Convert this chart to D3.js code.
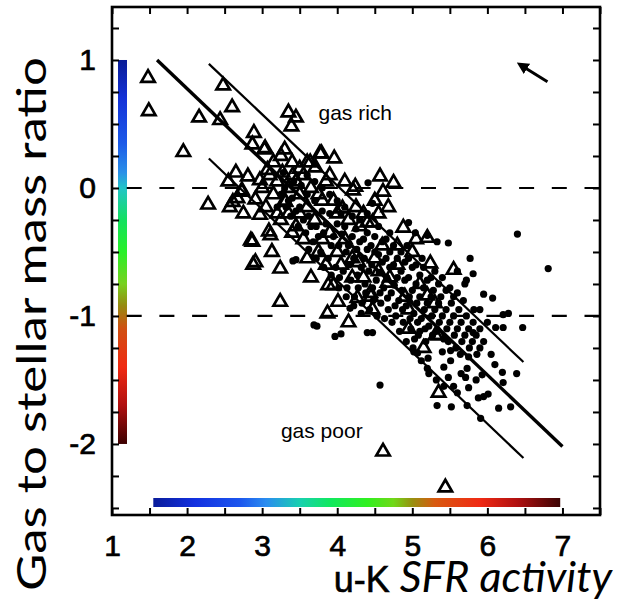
<!DOCTYPE html>
<html><head><meta charset="utf-8">
<script src="https://cdn.jsdelivr.net/npm/d3@7"></script>
<style>body{margin:0;background:#fff}svg{display:block}</style>
</head><body>
<svg id="c" width="619" height="602"></svg>
<script>
// ---- data ----
const xTicks = [1,2,3,4,5,6,7];
const yTicks = [1,0,-1,-2];
const dashedLevels = [0,-1];
const fitLines = [
  {x1:1.6, y1:1.0, x2:7.0, y2:-2.02, main:true},
  {x1:2.29, y1:0.97, x2:6.48, y2:-1.36, main:false},
  {x1:2.29, y1:0.23, x2:6.48, y2:-2.11, main:false}
];
const triangles = [
[1.48,0.86],[1.49,0.60],[2.16,0.55],[1.95,0.28],[2.48,0.80],[2.60,0.63],[2.44,0.53],[3.35,0.59],[3.45,0.55],[3.39,0.48],
[2.89,0.43],[2.87,0.34],[3.03,0.30],[3.77,0.27],[3.60,0.20],[3.71,0.16],[3.40,0.20],[3.07,0.14],[3.27,0.12],[3.41,0.10],
[2.81,0.09],[2.97,0.06],[2.28,-0.13],[2.57,-0.15],[2.61,-0.11],[2.73,-0.03],[2.91,-0.09],[2.97,-0.21],[3.09,-0.34],[2.87,-0.42],
[3.13,-0.50],[2.88,-0.60],[3.24,-0.63],[3.95,-0.76],[3.24,-0.89],[4.57,0.09],[4.75,0.04],[4.61,-0.03],[4.68,-0.15],[4.47,-0.27],
[4.88,-0.31],[5.20,-0.39],[5.55,-0.64],[5.24,-0.59],[4.21,-0.02],[3.87,-0.98],[4.01,-0.89],[4.15,-1.05],[4.27,-0.86],[4.47,-0.95],
[5.35,-1.60],[5.35,-1.15],[4.61,-2.06],[5.44,-2.34],[3.88,-0.76],[4.40,-0.27],[3.11,-0.37],[2.67,-0.08],
[3.0,0.0],[3.15,-0.05],[3.3,-0.1],[3.2,0.05],[3.5,-0.05],[3.6,-0.15],[3.35,-0.2],[3.45,-0.3],[3.7,-0.25],[3.8,-0.1],
[3.9,-0.35],[4.0,-0.2],[4.1,-0.4],[3.55,-0.4],[3.75,-0.5],[4.2,-0.55],[4.3,-0.3],[4.05,-0.6],[4.35,-0.7],[4.5,-0.55],
[4.6,-0.45],[4.7,-0.7],[4.8,-0.6],[4.9,-0.85],[4.45,-0.85],[3.3,0.3],[3.5,0.15],[3.9,0.1],[4.1,0.05],[3.85,-0.6],
[3.65,-0.7],[4.25,-0.15],[4.55,-0.2],[5.0,-0.5],[5.1,-0.75],[5.3,-0.9],[4.95,-1.1],[5.15,-1.25],[3.05,-0.15],[3.25,-0.25],
[2.75,-0.2],[2.55,0.05],[2.65,0.12],
[3.04,0.31],[3.79,0.27],[3.96,0.23],[3.64,0.20],[3.31,-0.11],[2.85,-0.41],[2.91,-0.58],[4.24,0.01],[4.07,-0.16],[2.73,-0.02],
[4.28,-0.58],[4.67,-0.74],[4.44,-0.82],[5.2,-0.84],[5.31,-1.15],[3.1,0.1],[3.2,-0.2],[3.35,0.0],[3.45,0.05],[3.55,0.1],
[3.65,0.0],[3.75,-0.05],[3.5,-0.2],[3.85,0.05],[3.95,-0.1],[4.15,-0.25],[4.35,-0.2],[4.5,-0.1],[3.4,-0.35],[3.6,-0.55],
[3.8,-0.4],[4.0,-0.5],[4.2,-0.7],[4.55,-0.65],[4.8,-0.45],[4.95,-0.95],[5.05,-0.4],[3.15,0.2],[3.25,0.25]
];
const dots = [
[3.41,-0.57],[3.45,-0.56],[3.69,-1.07],[3.73,-1.08],[3.97,-1.16],[4.05,-1.14],[4.40,-1.13],[4.47,-1.13],[4.17,-0.94],[4.57,-1.54],
[4.41,0.04],[4.47,-0.12],[4.95,-0.27],[5.04,-0.35],[5.20,-0.37],[5.33,-0.42],[5.48,-0.43],[6.40,-0.36],[6.81,-0.63],[5.77,-0.55],
[5.81,-0.67],[5.72,-0.72],[5.95,-0.83],[6.07,-0.86],[6.21,-0.99],[6.28,-0.98],[6.47,-1.09],[6.21,-1.09],[5.81,-1.05],[5.81,-1.13],
[6.0,-1.05],[6.11,-1.09],[6.2,-1.44],[6.39,-1.45],[6.21,-1.52],[5.93,-1.46],[5.71,-1.48],[5.51,-1.35],[5.40,-1.28],[5.51,-1.27],
[5.64,-1.30],[5.75,-1.32],[5.73,-1.41],[5.20,-1.41],[5.48,-1.48],[5.75,-1.56],[5.88,-1.64],[6.01,-1.61],[5.95,-1.63],[5.33,-1.70],
[5.52,-1.71],[5.73,-1.70],[6.15,-1.72],[6.31,-1.71],[5.91,-1.80],[5.01,-1.25],[5.07,-1.29],[5.21,-1.33],
[3.3,0.0],[3.32,-0.15],[3.28,0.12],[3.4,-0.08],[3.42,0.05],[3.38,-0.22],[3.5,-0.15],[3.52,0.02],[3.48,-0.3],
[3.6,-0.05],[3.62,-0.22],[3.58,-0.35],[3.6,0.1],[3.7,-0.1],[3.72,-0.3],[3.68,-0.42],[3.7,0.05],
[3.8,-0.18],[3.82,-0.35],[3.78,-0.5],[3.8,0.0],[3.9,-0.2],[3.92,-0.45],[3.88,-0.55],[3.9,-0.05],
[4.0,-0.28],[4.02,-0.45],[3.98,-0.62],[4.0,-0.1],[4.03,-0.7],[4.1,-0.3],[4.12,-0.5],[4.08,-0.65],[4.1,-0.15],[4.13,-0.78],
[4.2,-0.38],[4.22,-0.55],[4.18,-0.72],[4.2,-0.22],[4.23,-0.85],[4.3,-0.42],[4.32,-0.62],[4.28,-0.78],[4.3,-0.25],[4.33,-0.9],
[4.4,-0.48],[4.42,-0.65],[4.38,-0.82],[4.4,-0.35],[4.43,-0.95],[4.4,-0.2],[4.5,-0.5],[4.52,-0.72],[4.48,-0.88],[4.5,-0.38],[4.53,-1.0],
[4.6,-0.58],[4.62,-0.78],[4.58,-0.9],[4.6,-0.42],[4.63,-1.02],[4.7,-0.62],[4.72,-0.82],[4.68,-0.95],[4.7,-0.5],[4.73,-1.05],[4.7,-0.35],
[4.8,-0.7],[4.82,-0.88],[4.78,-1.0],[4.8,-0.55],[4.83,-1.12],[4.9,-0.72],[4.92,-0.92],[4.88,-1.05],[4.9,-0.58],[4.93,-0.45],
[5.0,-0.8],[5.02,-0.98],[4.98,-1.1],[5.0,-0.62],[5.03,-1.18],[5.1,-0.85],[5.12,-1.02],[5.08,-1.15],[5.1,-0.68],[5.13,-0.55],
[5.2,-0.9],[5.22,-1.08],[5.18,-1.2],[5.2,-0.72],[5.3,-0.95],[5.32,-1.12],[5.28,-0.8],[5.3,-0.65],
[5.4,-1.0],[5.42,-1.18],[5.38,-0.85],[5.4,-0.7],[5.5,-1.05],[5.52,-0.9],[5.48,-1.2],[5.5,-0.78],
[5.6,-1.1],[5.62,-0.95],[5.58,-1.25],[5.6,-0.82],[5.7,-1.15],[5.72,-1.0],[5.68,-0.88],[5.8,-1.2],[5.82,-0.95],[5.9,-1.25],[5.9,-1.1],
[3.85,-0.28],[3.95,-0.38],[4.05,-0.2],[4.06,-0.36],[4.15,-0.45],[4.16,-0.6],[4.25,-0.32],[4.26,-0.48],[4.27,-0.68],[4.35,-0.4],
[4.36,-0.55],[4.37,-0.75],[4.45,-0.45],[4.46,-0.6],[4.47,-0.78],[4.55,-0.52],[4.56,-0.66],[4.57,-0.82],[4.55,-0.3],[4.65,-0.55],
[4.66,-0.7],[4.67,-0.86],[4.65,-0.4],[4.75,-0.6],[4.76,-0.76],[4.77,-0.92],[4.75,-0.45],[4.85,-0.65],[4.86,-0.8],[4.87,-0.95],
[4.85,-0.5],[4.95,-0.7],[4.96,-0.85],[4.97,-1.02],[4.95,-0.55],[5.05,-0.75],[5.06,-0.9],[5.07,-1.05],[5.05,-0.6],[5.15,-0.78],
[5.16,-0.95],[5.17,-1.1],[5.15,-0.62],[5.25,-0.85],[5.26,-1.0],[5.27,-1.15],[5.25,-0.7],[5.35,-0.9],[5.36,-1.05],[5.35,-0.75],
[5.45,-0.95],[5.46,-1.1],[5.45,-0.8],[5.55,-1.0],[5.56,-1.15],[5.55,-0.85],[5.65,-1.05],[5.66,-1.2],[5.75,-1.1],[5.76,-1.25],
[5.85,-1.15],[5.86,-1.3],[5.95,-1.2],[6.05,-1.3],[6.1,-1.38],[3.55,-0.25],[3.65,-0.3],[3.75,-0.38],[3.45,-0.18],[3.35,-0.1],
[3.25,-0.05],[3.2,-0.15],[3.62,-0.48],[3.72,-0.55],[3.82,-0.62],[3.92,-0.68],[4.02,-0.78],[4.12,-0.85],[4.22,-0.92],[4.32,-0.98],
[4.92,-1.2],[5.02,-1.28],[5.12,-1.35],[5.22,-1.45],[5.32,-1.5],[5.42,-1.55],[5.6,-1.6],[5.65,-1.45],[5.55,-1.55],[5.42,-1.4],
[5.85,-1.5],[5.1,-1.12],[5.6,-0.65],[5.7,-0.75],[5.9,-0.95]
];
const vGradStops = [
 [1.0,"#0a1c96"],[0.7,"#1432d8"],[0.35,"#1c5ae8"],[0.12,"#2a90e8"],[0.0,"#22c4c8"],[-0.25,"#14e060"],[-0.5,"#28f028"],
 [-0.75,"#78d020"],[-0.92,"#968a10"],[-1.1,"#d05012"],[-1.4,"#f02a12"],[-1.7,"#b01010"],[-2.0,"#3c0000"]
];
const hGradStops = [
 [1.55,"#0a1c9a"],[2.1,"#1230e0"],[2.7,"#1c56ee"],[3.05,"#2a8cf0"],[3.5,"#18d0b0"],[3.9,"#10e860"],[4.4,"#30f020"],
 [4.75,"#70d818"],[5.0,"#989010"],[5.3,"#d85a10"],[5.9,"#f02a14"],[6.4,"#b01010"],[6.97,"#3c0404"]
];
const labelRich = "gas rich", labelPoor = "gas poor";

// ---- layout ----
const svg = d3.select("#c");
const L=112, R=600, T=7, B=515;
const x = d3.scaleLinear().domain([1,7.5]).range([L,R]);
const y = d3.scaleLinear().domain([-2.555,1.414]).range([B,T]);
const font = "'Liberation Sans', Arial, Helvetica, sans-serif";

const defs = svg.append("defs");
const vg = defs.append("linearGradient").attr("id","vg").attr("gradientUnits","userSpaceOnUse")
  .attr("x1",0).attr("x2",0).attr("y1",y(1)).attr("y2",y(-2));
vg.selectAll("stop").data(vGradStops).join("stop")
  .attr("offset",d=>(y(d[0])-y(1))/(y(-2)-y(1))).attr("stop-color",d=>d[1]);
const hg = defs.append("linearGradient").attr("id","hg").attr("gradientUnits","userSpaceOnUse")
  .attr("x1",x(1.55)).attr("x2",x(6.97)).attr("y1",0).attr("y2",0);
hg.selectAll("stop").data(hGradStops).join("stop")
  .attr("offset",d=>(x(d[0])-x(1.55))/(x(6.97)-x(1.55))).attr("stop-color",d=>d[1]);

// colorbars
svg.append("rect").attr("x",118).attr("width",9).attr("y",y(1)).attr("height",y(-2)-y(1)).attr("fill","url(#vg)");
svg.append("rect").attr("x",x(1.55)).attr("width",x(6.97)-x(1.55)).attr("y",498).attr("height",9).attr("fill","url(#hg)");

// dashed lines
svg.selectAll(".dash").data(dashedLevels).join("line")
  .attr("x1",L).attr("x2",R).attr("y1",d=>y(d)).attr("y2",d=>y(d))
  .attr("stroke","#000").attr("stroke-width",2.2).attr("stroke-dasharray","15,17.7").attr("stroke-dashoffset",18);

// fit lines
svg.selectAll(".fit").data(fitLines).join("line")
  .attr("x1",d=>x(d.x1)).attr("y1",d=>y(d.y1)).attr("x2",d=>x(d.x2)).attr("y2",d=>y(d.y2))
  .attr("stroke","#000").attr("stroke-width",d=>d.main?3.4:2.2);

// points
svg.append("g").selectAll("circle").data(dots).join("circle")
  .attr("cx",d=>x(d[0])).attr("cy",d=>y(d[1])).attr("r",3.6).attr("fill","#000");
const tri = d3.symbol().type(d3.symbolTriangle).size(78);
svg.append("g").selectAll("path").data(triangles).join("path")
  .attr("d",tri).attr("transform",d=>`translate(${x(d[0])},${y(d[1])})`)
  .attr("fill","none").attr("stroke","#000").attr("stroke-width",2.7).attr("stroke-linejoin","miter");

// axes (ticks inward)
const xMinor = d3.range(1,7.51,0.5), yMinor = d3.range(-2.5,1.26,0.25);
const fmt = d=>String(d);
svg.append("g").attr("transform",`translate(0,${B})`)
  .call(d3.axisBottom(x).tickValues(xMinor).tickSize(-7).tickPadding(20)
  .tickFormat(d=>xTicks.includes(d)?fmt(d):""));
svg.append("g").attr("transform",`translate(0,${T})`).call(d3.axisTop(x).tickValues(xMinor).tickSize(-7).tickFormat(""));
svg.append("g").attr("transform",`translate(${L},0)`)
  .call(d3.axisLeft(y).tickValues(yMinor).tickSize(-7).tickPadding(16)
  .tickFormat(d=>yTicks.includes(d)?fmt(d):""));
svg.append("g").attr("transform",`translate(${R},0)`).call(d3.axisRight(y).tickValues(yMinor).tickSize(-7).tickFormat(""));
svg.selectAll(".domain").remove();
svg.selectAll(".tick text").filter(function(){return this.textContent==="";}).remove();
svg.selectAll(".tick line").attr("stroke","#000").attr("stroke-width",2);
svg.selectAll(".tick text").attr("font-family",font).attr("font-size",30).attr("fill","#000")
  .attr("stroke","#000").attr("stroke-width",0.7);
svg.append("rect").attr("x",L).attr("y",T).attr("width",R-L).attr("height",B-T)
  .attr("fill","none").attr("stroke","#000").attr("stroke-width",2.6);

// annotations
svg.append("text").attr("x",x(3.75)).attr("y",y(0.53)).attr("font-family",font).attr("font-size",21).text(labelRich);
svg.append("text").attr("x",x(3.25)).attr("y",y(-1.95)).attr("font-family",font).attr("font-size",21).text(labelPoor);
defs.append("marker").attr("id","ah").attr("viewBox","0 0 10 10").attr("refX",2).attr("refY",5)
  .attr("markerWidth",4).attr("markerHeight",4).attr("orient","auto-start-reverse")
  .append("path").attr("d","M0,0L10,5L0,10Z").attr("fill","#000");
svg.append("line").attr("x1",x(6.8)).attr("y1",y(0.83)).attr("x2",x(6.5)).attr("y2",y(0.94))
  .attr("stroke","#000").attr("stroke-width",3).attr("marker-end","url(#ah)");

// titles
svg.append("text").attr("transform","translate(46,324) rotate(-90)").attr("text-anchor","middle")
  .attr("font-family","Lato, 'Open Sans', sans-serif").attr("font-size",41)
  .attr("textLength",534).attr("lengthAdjust","spacingAndGlyphs").text("Gas to stellar mass ratio");
const xt = svg.append("text").attr("x",612).attr("y",592).attr("text-anchor","end");
xt.append("tspan").attr("font-family",font).attr("font-size",36).attr("stroke","#000").attr("stroke-width",0.6).text("u-K ");
xt.append("tspan").attr("font-family","Lato, 'Open Sans', sans-serif").attr("font-style","italic").attr("font-size",43).text("SFR activity");
</script>
</body></html>
